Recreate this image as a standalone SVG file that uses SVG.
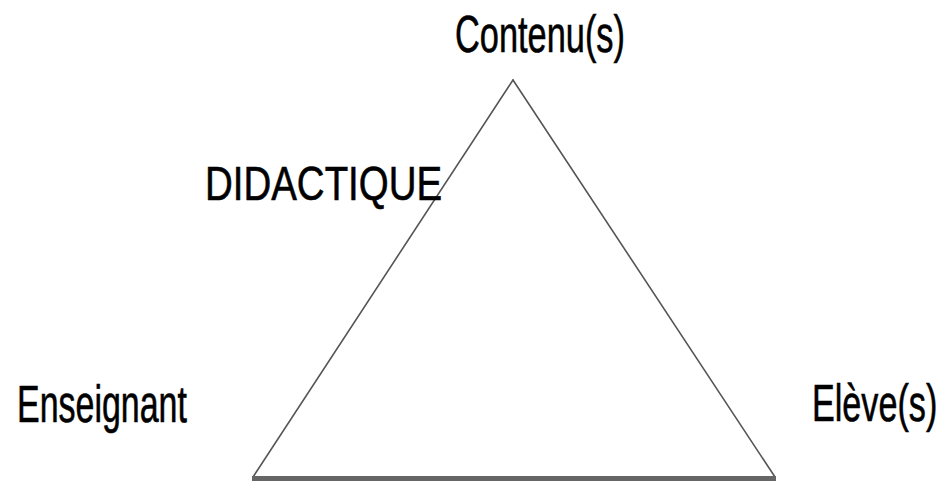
<svg xmlns="http://www.w3.org/2000/svg" width="947" height="481" viewBox="0 0 947 481">
<style>
.lbl{font-family:"Liberation Sans","DejaVu Sans",sans-serif;font-size:51px;fill:#000;stroke:#000;stroke-width:0.6}
.side{stroke:#555;stroke-width:1.6;fill:none;stroke-linecap:round}
.base{stroke:#666;stroke-width:5;fill:none}
</style>
<rect width="947" height="481" fill="#fff"/>
<g id="connectors">
<line class="side" x1="513" y1="80" x2="253" y2="477"/>
<line class="side" x1="513" y1="80" x2="775" y2="477"/>
<line class="base" x1="252" y1="478.5" x2="776" y2="478.5"/>
</g>
<g id="contenu" transform="translate(455,52) scale(0.674,1)"><text class="lbl" x="0" y="0">Contenu(s)</text></g>
<g id="didactique" transform="translate(205,200) scale(0.785,1)"><text class="lbl" x="0" y="0" style="font-size:49px">DIDACTIQUE</text></g>
<g id="enseignant" transform="translate(17,422) scale(0.666,1)"><text class="lbl" x="0" y="0">Enseignant</text></g>
<g id="eleve" transform="translate(812,421) scale(0.67,1)"><text class="lbl" x="0" y="0">Elève(s)</text></g>
</svg>
